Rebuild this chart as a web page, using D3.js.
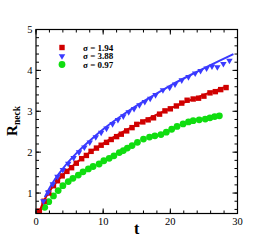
<!DOCTYPE html>
<html>
<head>
<meta charset="utf-8">
<script src="https://cdn.jsdelivr.net/npm/d3@7"></script>
<style>
  html, body { margin: 0; padding: 0; background: #fff; }
  svg { display: block; font-family: "Liberation Serif", "DejaVu Serif", serif; }
</style>
</head>
<body>
<svg id="chart" width="271" height="241"></svg>
<script>
// ── Data ───────────────────────────────────────────────────────────────────
const redT = [0.5, 1.2, 1.9, 2.6, 3.2, 3.9, 4.6, 5.3, 6.0, 6.8, 7.5, 8.2, 9.0, 9.7, 10.5, 11.2, 12.0, 12.7, 13.5, 14.3,
              15.0, 15.9, 16.7, 17.5, 18.4, 19.2, 20.0, 20.9, 21.7, 22.5, 23.4, 24.2, 25.0, 25.9, 26.7, 27.5, 28.3];
const redR = [0.56, 0.80, 1.00, 1.18, 1.30, 1.42, 1.53, 1.62, 1.73, 1.84, 1.92, 2.02, 2.10, 2.17, 2.24, 2.31, 2.38, 2.44, 2.52, 2.60,
              2.68, 2.74, 2.79, 2.84, 2.93, 3.01, 3.06, 3.13, 3.20, 3.27, 3.30, 3.32, 3.37, 3.45, 3.48, 3.53, 3.58];

const blueT = [1.1, 1.8, 2.5, 3.2, 4.0, 4.8, 5.6, 6.4, 7.2, 8.0, 8.9, 9.7, 10.5, 11.4, 12.2, 13.0, 13.8, 14.6, 15.4, 16.2,
               17.0, 17.8, 18.9, 19.9, 20.7, 21.7, 22.7, 23.7, 24.5, 25.4, 26.2, 27.0, 27.9, 28.8];
const blueR = [0.80, 1.02, 1.22, 1.40, 1.57, 1.72, 1.86, 2.00, 2.12, 2.24, 2.37, 2.48, 2.58, 2.69, 2.79, 2.88, 2.98, 3.06, 3.15, 3.23,
               3.31, 3.40, 3.52, 3.58, 3.66, 3.76, 3.84, 3.93, 3.99, 4.05, 4.10, 4.08, 4.16, 4.24];

const greenT = [1.3, 1.9, 2.6, 3.3, 4.0, 4.8, 5.5, 6.3, 7.0, 7.8, 8.5, 9.4, 10.1, 10.9, 11.6, 12.4, 13.0, 13.6, 14.3, 15.1,
                16.0, 16.9, 17.7, 18.6, 19.4, 20.2, 21.0, 21.9, 22.7, 23.4, 24.3, 25.2, 25.9, 26.6, 27.3];
const greenR = [0.65, 0.79, 0.93, 1.06, 1.18, 1.28, 1.36, 1.44, 1.52, 1.59, 1.65, 1.71, 1.79, 1.85, 1.91, 1.99, 2.04, 2.10, 2.16, 2.24,
                2.32, 2.37, 2.40, 2.43, 2.49, 2.56, 2.63, 2.69, 2.74, 2.77, 2.79, 2.81, 2.84, 2.87, 2.89];

// fitted curves drawn through the markers
const redFitT  = [0.5, 1, 2, 3, 4, 6, 8, 10, 13, 16, 20, 24, 28.6];
const redFitR  = [0.54, 0.75, 1.04, 1.26, 1.44, 1.74, 1.99, 2.21, 2.50, 2.76, 3.07, 3.34, 3.62];
const blueFitT = [1.3, 2, 3, 4, 6, 8, 10, 13, 16, 20, 24, 29.4];
const blueFitR = [0.90, 1.12, 1.38, 1.60, 1.97, 2.28, 2.56, 2.92, 3.24, 3.63, 3.97, 4.40];

const legendLabels = ['σ = 1.94', 'σ = 3.88', 'σ = 0.97'];
const xTicks = [0, 10, 20, 30];
const yTicks = [1, 2, 3, 4, 5];

// ── Layout ─────────────────────────────────────────────────────────────────
const W = 271, H = 241;
const margin = { left: 36, right: W - 237.5, top: 29.5, bottom: H - 213.5 };
const x = d3.scaleLinear().domain([0, 30]).range([margin.left, W - margin.right]);
const y = d3.scaleLinear().domain([0.5, 5]).range([H - margin.bottom, margin.top]);

const svg = d3.select('#chart');
const RED = '#d00000', BLUE = '#3a3aff', GREEN = '#10dd10';

const zip = (a, b) => a.map((v, i) => [v, b[i]]);

// ── Plot contents (clipped) ────────────────────────────────────────────────
svg.append('clipPath').attr('id', 'clip')
  .append('rect')
  .attr('x', x(0)).attr('y', y(5))
  .attr('width', x(30) - x(0)).attr('height', y(0.5) - y(5));

const plot = svg.append('g').attr('clip-path', 'url(#clip)');

const line = d3.line().x(d => x(d[0])).y(d => y(d[1])).curve(d3.curveMonotoneX);

// green circles
plot.append('g').selectAll('circle')
  .data(zip(greenT, greenR))
  .join('circle')
  .attr('cx', d => x(d[0])).attr('cy', d => y(d[1]))
  .attr('r', 3.4).attr('fill', GREEN);

// red squares + fit
plot.append('g').selectAll('rect')
  .data(zip(redT, redR))
  .join('rect')
  .attr('x', d => x(d[0]) - 2.7).attr('y', d => y(d[1]) - 2.7)
  .attr('width', 5.4).attr('height', 5.4).attr('fill', RED);

plot.append('path')
  .datum(zip(redFitT, redFitR))
  .attr('d', line).attr('fill', 'none')
  .attr('stroke', RED).attr('stroke-width', 2);

// blue triangles + fit
const tri = d3.symbol().type(d3.symbolTriangle).size(18);
plot.append('g').selectAll('path')
  .data(zip(blueT, blueR))
  .join('path')
  .attr('d', tri)
  .attr('transform', d => `translate(${x(d[0])},${y(d[1])}) rotate(180)`)
  .attr('fill', BLUE);

plot.append('path')
  .datum(zip(blueFitT, blueFitR))
  .attr('d', line).attr('fill', 'none')
  .attr('stroke', BLUE).attr('stroke-width', 2);

// ── Axes: ticks inward on all four sides ───────────────────────────────────
const xMinor = d3.range(0, 30.01, 2);
const yMinor = d3.range(0.6, 5.001, 0.2).map(v => +v.toFixed(1));

function tickMarks(g, vals, scale, orient, len) {
  g.selectAll(null).data(vals).join('line')
    .attr('x1', d => orient === 'h' ? scale(d) : 0)
    .attr('x2', d => orient === 'h' ? scale(d) : len)
    .attr('y1', d => orient === 'v' ? scale(d) : 0)
    .attr('y2', d => orient === 'v' ? scale(d) : len)
    .attr('stroke', '#000').attr('stroke-width', 1);
}

const axes = svg.append('g');
const axBottom = axes.append('g').attr('transform', `translate(0,${y(0.5)})`);
tickMarks(axBottom, xMinor, x, 'h', -3);
tickMarks(axBottom, xTicks, x, 'h', -5);
const axTop = axes.append('g').attr('transform', `translate(0,${y(5)})`);
tickMarks(axTop, xMinor, x, 'h', 3);
tickMarks(axTop, xTicks, x, 'h', 5);
const axLeft = axes.append('g').attr('transform', `translate(${x(0)},0)`);
tickMarks(axLeft, yMinor, y, 'v', 3);
tickMarks(axLeft, yTicks, y, 'v', 5);
const axRight = axes.append('g').attr('transform', `translate(${x(30)},0)`);
tickMarks(axRight, yMinor, y, 'v', -3);
tickMarks(axRight, yTicks, y, 'v', -5);

axes.append('rect')
  .attr('x', x(0)).attr('y', y(5))
  .attr('width', x(30) - x(0)).attr('height', y(0.5) - y(5))
  .attr('fill', 'none').attr('stroke', '#000').attr('stroke-width', 1.2);

// tick labels
axes.append('g').selectAll('text').data(xTicks).join('text')
  .attr('x', d => x(d)).attr('y', y(0.5) + 11)
  .attr('text-anchor', 'middle').attr('font-size', 10.5)
  .text(d => d);

axes.append('g').selectAll('text').data(yTicks).join('text')
  .attr('x', x(0) - 3.5).attr('y', d => y(d) + 3.5)
  .attr('text-anchor', 'end').attr('font-size', 10.5)
  .text(d => d);

// axis titles
svg.append('text')
  .attr('x', x(15)).attr('y', 234)
  .attr('text-anchor', 'middle').attr('font-size', 16).attr('font-weight', 'bold')
  .text('t');

const yt = svg.append('text')
  .attr('transform', `translate(17,121) rotate(-90)`)
  .attr('text-anchor', 'middle').attr('font-weight', 'bold');
yt.append('tspan').attr('font-size', 15).text('R');
yt.append('tspan').attr('font-size', 9.5).attr('dy', 3).text('neck');

// ── Legend ─────────────────────────────────────────────────────────────────
const leg = svg.append('g');
const legY = [47.5, 56, 64.5];
leg.append('rect').attr('x', 62 - 2.7).attr('y', legY[0] - 2.7)
  .attr('width', 5.4).attr('height', 5.4).attr('fill', RED);
leg.append('path').attr('d', tri)
  .attr('transform', `translate(62,${legY[1]}) rotate(180)`).attr('fill', BLUE);
leg.append('circle').attr('cx', 62).attr('cy', legY[2]).attr('r', 3.4).attr('fill', GREEN);

leg.selectAll('text').data(legendLabels).join('text')
  .attr('x', 83).attr('y', (d, i) => legY[i] + 3)
  .attr('font-size', 9).attr('font-weight', 'bold')
  .text(d => d);
</script>
</body>
</html>
